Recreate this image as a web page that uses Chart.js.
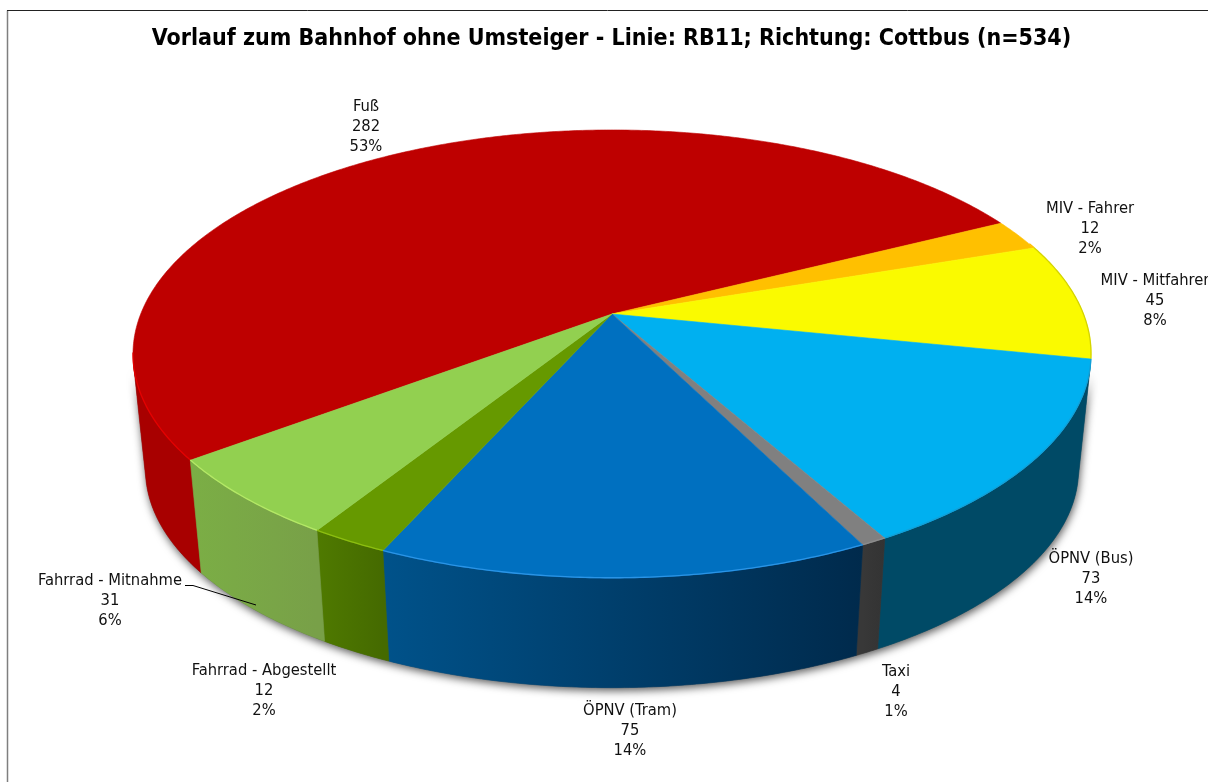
<!DOCTYPE html>
<html><head><meta charset="utf-8">
<script src="https://cdn.jsdelivr.net/npm/chart.js@4"></script>
<style>html,body{margin:0;padding:0;background:#fff;overflow:hidden}canvas{display:block}</style>
</head><body><canvas id="c" width="1208" height="782"></canvas>
<script>
const titleText = 'Vorlauf zum Bahnhof ohne Umsteiger - Linie: RB11; Richtung: Cottbus (n=534)';
const categories = ['Fuß','MIV - Fahrer','MIV - Mitfahrer','ÖPNV (Bus)','Taxi','ÖPNV (Tram)','Fahrrad - Abgestellt','Fahrrad - Mitnahme'];
const values = [282,12,45,73,4,75,12,31];
const percents = ['53%','2%','8%','14%','1%','14%','2%','6%'];
const topColors = ['#BE0000','#FFC000','#FAFA00','#00B0F0','#808080','#0070C0','#669900','#92D050'];
const wallLeft  = ['#A80000','#CC9900','#C8C800','#004A66','#383838','#00528A','#4F7A00','#7BAE45'];
const wallRight = ['#A80000','#CC9900','#C8C800','#004A66','#333333','#002A4C','#456A00','#78A048'];
const rimColors = ['#E40000','#FFC000','#D4D400','#12A0D8','#8C8C8C','#2A94E6','#8CBE10','#B4E866'];
const labelX = [366,1090,1155,1091,896,630,264,110];
const labelY = [107,209,281,559,672,711,671,581];

const G = {cx:612, cy:314, A:471.3, B:216.9, k:0.1786, baseScale:0.974, baseCy:430.5};
function proj(a, base){
  const u=Math.cos(a), v=Math.sin(a), w=1-G.k*v;
  const s=base?G.baseScale:1, c=base?G.baseCy:G.cy;
  return [G.cx+s*G.A*u/w, c+s*G.B*v/w];
}
function samples(a0,a1){
  const out=[], n=Math.max(2,Math.ceil(Math.abs(a1-a0)/(Math.PI/360)));
  for(let i=0;i<=n;i++) out.push(a0+(a1-a0)*i/n);
  return out;
}
const WALL0=13*Math.PI/180, WALL1=167*Math.PI/180; // canvas angles where the body silhouette leaves the top face
function norm(a){const t=2*Math.PI;a=(a-WALL0)%t;if(a<0)a+=t;return a+WALL0;}

const pie3d = {
  id:'pie3d',
  beforeDraw(chart){
    const c=chart.ctx;
    c.save();c.fillStyle='#fff';c.fillRect(0,0,1208,782);
    c.strokeStyle='#7f7f7f';c.lineWidth=1.5;c.beginPath();c.moveTo(7.5,782);c.lineTo(7.5,10.5);c.stroke();
    c.strokeStyle='#222';c.lineWidth=1;c.beginPath();c.moveTo(7,10.5);c.lineTo(1208,10.5);c.stroke();
    c.restore();
  },
  beforeDatasetsDraw(chart){
    const c=chart.ctx, arcs=chart.getDatasetMeta(0).data;
    const parts=arcs.map(el=>el.getProps(['startAngle','endAngle'],true));
    c.save();
    // soft shadow round the lower part of the body
    c.save();
    c.beginPath();c.rect(0,356,1208,426);c.clip();
    c.shadowColor='rgba(0,0,0,0.65)';c.shadowBlur=9;c.shadowOffsetX=1;c.shadowOffsetY=3;
    c.fillStyle='#555';c.beginPath();
    samples(WALL0,WALL1).forEach((a,i)=>{const q=proj(a,true);i?c.lineTo(q[0],q[1]):c.moveTo(q[0],q[1]);});
    samples(WALL1,WALL0).forEach(a=>{const q=proj(a,false);c.lineTo(q[0],q[1]);});
    c.closePath();c.fill();
    c.restore();
    // walls
    parts.forEach((p,i)=>{
      let s=norm(p.startAngle), e=s+(p.endAngle-p.startAngle);
      const ranges=[[s,e],[s-2*Math.PI,e-2*Math.PI]];
      ranges.forEach(([r0,r1])=>{
        const a0=Math.max(r0,WALL0), a1=Math.min(r1,WALL1);
        if(a1<=a0) return;
        const pts=samples(a0,a1);
        const xs=pts.map(a=>proj(a,false)[0]);
        const g=c.createLinearGradient(Math.min(...xs),0,Math.max(...xs),0);
        g.addColorStop(0,wallLeft[i]);g.addColorStop(1,wallRight[i]);
        c.fillStyle=g;c.strokeStyle=g;c.lineWidth=0.6;
        c.beginPath();
        pts.forEach((a,j)=>{const q=proj(a,false);j?c.lineTo(q[0],q[1]):c.moveTo(q[0],q[1]);});
        pts.slice().reverse().forEach(a=>{const q=proj(a,true);c.lineTo(q[0],q[1]);});
        c.closePath();c.fill();c.stroke();
      });
    });
    // top faces
    parts.forEach((p,i)=>{
      c.fillStyle=topColors[i];c.strokeStyle=topColors[i];c.lineWidth=0.6;
      c.beginPath();c.moveTo(G.cx,G.cy);
      samples(p.startAngle,p.endAngle).forEach(a=>{const q=proj(a,false);c.lineTo(q[0],q[1]);});
      c.closePath();c.fill();c.stroke();
    });
    // light rim on the front edge of the top face
    parts.forEach((p,i)=>{
      let s=norm(p.startAngle), e=s+(p.endAngle-p.startAngle);
      [[s,e],[s-2*Math.PI,e-2*Math.PI]].forEach(([r0,r1])=>{
        const a0=Math.max(r0,-20*Math.PI/180), a1=Math.min(r1,170*Math.PI/180);
        if(a1<=a0) return;
        c.strokeStyle=rimColors[i];c.lineWidth=1.3;c.beginPath();
        samples(a0,a1).forEach((a,j)=>{const q=proj(a,false);j?c.lineTo(q[0],q[1]-0.3):c.moveTo(q[0],q[1]-0.3);});
        c.stroke();
      });
    });
    c.restore();
    return false;
  },
  afterDraw(chart){
    const c=chart.ctx;
    c.save();
    c.font='16.4px "DejaVu Sans Condensed","DejaVu Sans",sans-serif';
    c.fillStyle='#111';c.textAlign='center';c.textBaseline='middle';
    categories.forEach((name,i)=>{
      [name,String(values[i]),percents[i]].forEach((t,j)=>c.fillText(t,labelX[i],labelY[i]+j*20));
    });
    // leader line of the Mitnahme label
    c.strokeStyle='#000';c.lineWidth=1;c.beginPath();c.moveTo(185,585.5);c.lineTo(193,585.5);c.lineTo(256,605);c.stroke();
    c.restore();
  }
};

new Chart(document.getElementById('c'),{
  type:'pie',
  data:{labels:categories,datasets:[{data:values,backgroundColor:topColors,borderWidth:0}]},
  options:{
    responsive:false,animation:false,rotation:-127,
    events:[],
    layout:{padding:{top:0,left:15,right:0,bottom:0}},
    plugins:{
      legend:{display:false},tooltip:{enabled:false},
      title:{display:true,text:titleText,color:'#000',align:'center',
        font:{family:'"DejaVu Sans Condensed","DejaVu Sans",sans-serif',size:23,weight:'bold'},
        padding:{top:25,bottom:10}}
    }
  },
  plugins:[pie3d]
});
</script></body></html>
